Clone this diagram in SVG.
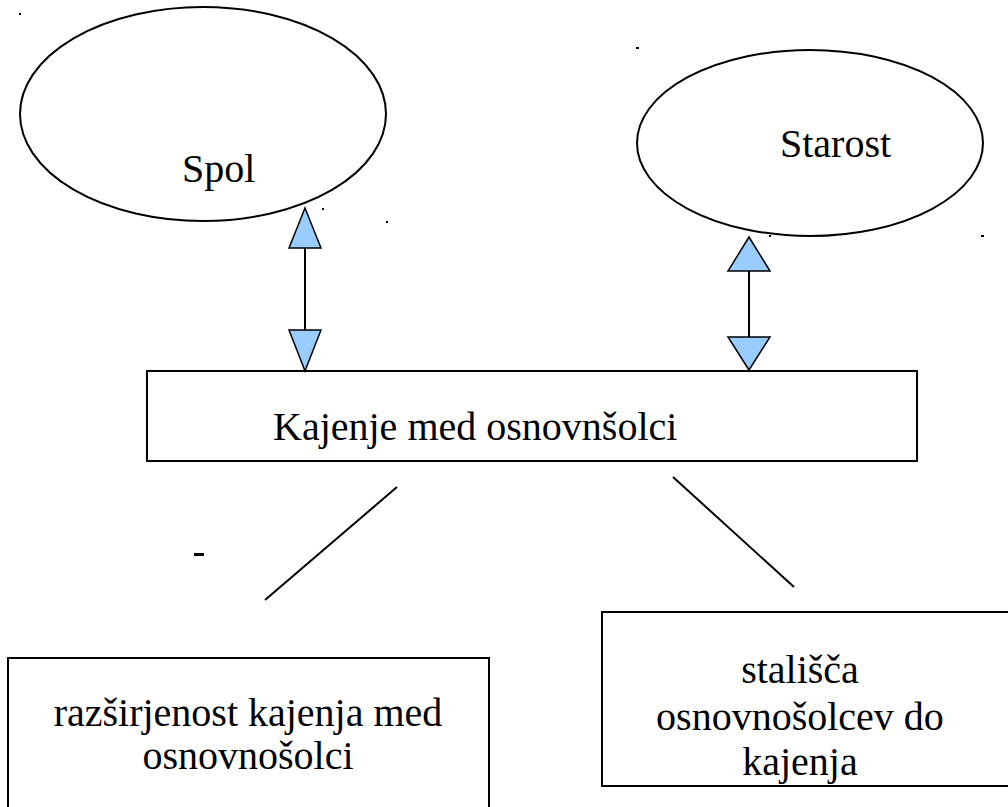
<svg xmlns="http://www.w3.org/2000/svg" width="1008" height="807" viewBox="0 0 1008 807">
<style>
.shape{fill:#ffffff;stroke:#000000;stroke-width:2}
.lbl{font-family:"Liberation Serif","Times New Roman",serif;font-size:40px;fill:#000000}
.conn{stroke:#000000;stroke-width:2;fill:none}
.head{fill:#99ccff;stroke:#000000;stroke-width:1.5;stroke-linejoin:miter}
.dot{fill:#000000}
</style>
<rect width="1008" height="807" fill="#ffffff"/>
<g id="spol">
<ellipse class="shape" cx="203" cy="114" rx="183" ry="107"/>
<text class="lbl" x="182" y="182">Spol</text>
</g>
<g id="starost">
<ellipse class="shape" cx="810" cy="143" rx="173" ry="93"/>
<text class="lbl" x="780" y="157">Starost</text>
</g>
<g id="kajenje">
<rect class="shape" x="147" y="371" width="770" height="90"/>
<text class="lbl" x="273" y="440">Kajenje med osnovnšolci</text>
</g>
<g id="razsirjenost">
<rect class="shape" x="8" y="658" width="481" height="170"/>
<text class="lbl" x="248" y="726" text-anchor="middle">razširjenost kajenja med</text>
<text class="lbl" x="248" y="769" text-anchor="middle">osnovnošolci</text>
</g>
<g id="stalisca">
<rect class="shape" x="602" y="612" width="420" height="174"/>
<text class="lbl" x="800" y="683" text-anchor="middle">stališča</text>
<text class="lbl" x="800" y="730" text-anchor="middle">osnovnošolcev do</text>
<text class="lbl" x="800" y="775" text-anchor="middle">kajenja</text>
</g>
<g id="connectors">
<line class="conn" x1="305" y1="248" x2="305" y2="330"/>
<polygon class="head" points="305,208 321,248 289,248"/>
<polygon class="head" points="289,330 321,330 305,371"/>
<line class="conn" x1="749" y1="271" x2="749" y2="337"/>
<polygon class="head" points="749,237 770,271 728,271"/>
<polygon class="head" points="728,337 770,337 749,370"/>
<line class="conn" x1="397" y1="487" x2="265" y2="600"/>
<line class="conn" x1="673" y1="477" x2="794" y2="587"/>
</g>
<g id="marks">
<rect class="dot" x="19" y="13" width="2" height="2"/>
<rect class="dot" x="636" y="47" width="3" height="2"/>
<rect class="dot" x="981" y="235" width="3" height="2"/>
<rect class="dot" x="322" y="208" width="2" height="2"/>
<rect class="dot" x="386" y="221" width="2" height="2"/>
<rect class="dot" x="769" y="235" width="2" height="2"/>
<rect class="dot" x="194" y="553" width="10" height="3"/>
</g>
</svg>
